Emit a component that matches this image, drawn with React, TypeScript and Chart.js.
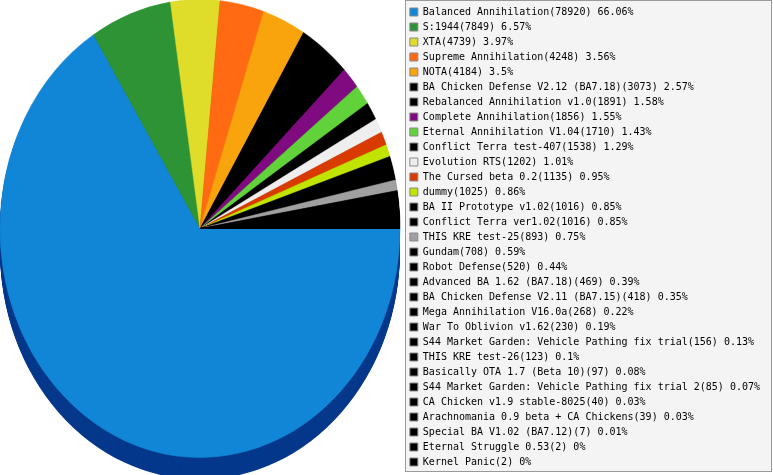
import React, { useEffect, useRef } from 'react';
import { Chart, registerables } from 'chart.js';

Chart.register(...registerables);

const NAMES: string[] = [
  'Balanced Annihilation',
  'S:1944',
  'XTA',
  'Supreme Annihilation',
  'NOTA',
  'BA Chicken Defense V2.12 (BA7.18)',
  'Rebalanced Annihilation v1.0',
  'Complete Annihilation',
  'Eternal Annihilation V1.04',
  'Conflict Terra test-407',
  'Evolution RTS',
  'The Cursed beta 0.2',
  'dummy',
  'BA II Prototype v1.02',
  'Conflict Terra ver1.02',
  'THIS KRE test-25',
  'Gundam',
  'Robot Defense',
  'Advanced BA 1.62 (BA7.18)',
  'BA Chicken Defense V2.11 (BA7.15)',
  'Mega Annihilation V16.0a',
  'War To Oblivion v1.62',
  'S44 Market Garden: Vehicle Pathing fix trial',
  'THIS KRE test-26',
  'Basically OTA 1.7 (Beta 10)',
  'S44 Market Garden: Vehicle Pathing fix trial 2',
  'CA Chicken v1.9 stable-8025',
  'Arachnomania 0.9 beta + CA Chickens',
  'Special BA V1.02 (BA7.12)',
  'Eternal Struggle 0.53',
  'Kernel Panic',
];

const VALUES: number[] = [
  78920, 7849, 4739, 4248, 4184, 3073, 1891, 1856, 1710, 1538, 1202, 1135, 1025,
  1016, 1016, 893, 708, 520, 469, 418, 268, 230, 156, 123, 97, 85, 40, 39, 7, 2, 2,
];

const COLORS: string[] = [
  '#1185d6', '#2e9334', '#e0dc2a', '#ff6a12', '#f9a30d', '#000000', '#000000',
  '#800a80', '#62d23a', '#000000', '#eeeeee', '#d93a00', '#c0e300', '#000000',
  '#000000', '#a0a0a0', '#000000', '#000000', '#000000', '#000000', '#000000',
  '#000000', '#000000', '#000000', '#000000', '#000000', '#000000', '#000000',
  '#000000', '#000000', '#000000',
];

// style / layout of the tilted (3D) pie
const PIE_CX = 200;
const PIE_CY = 228.5;
const PIE_RX = 200;
const PIE_RY = 229;
const DEPTH = 22;

function darken(hex: string): string {
  const n = parseInt(hex.slice(1), 16);
  const r = Math.round(((n >> 16) & 255) * 0.3);
  const g = Math.round(((n >> 8) & 255) * 0.42);
  const b = Math.round((n & 255) * 0.65);
  return `rgb(${r},${g},${b})`;
}

const TOTAL = VALUES.reduce((a, b) => a + b, 0);
const LABELS = NAMES.map(
  (n, i) => `${n}(${VALUES[i]}) ${Math.round((VALUES[i] / TOTAL) * 10000) / 100}%`
);

const pie3d = {
  id: 'pie3d',
  beforeDatasetsDraw(chart: any) {
    const ctx: CanvasRenderingContext2D = chart.ctx;
    const arcs: any[] = chart.getDatasetMeta(0).data;
    if (!arcs.length) return;
    const a0 = arcs[0];
    const cx = a0.x;
    const cy = a0.y;
    const r = a0.outerRadius;
    const sx = PIE_RX / r;
    const sy = PIE_RY / r;
    const south = Math.PI / 2;
    const dist = (a: any) => {
      const m = (a.startAngle + a.endAngle) / 2 - south;
      return Math.abs(Math.atan2(Math.sin(m), Math.cos(m)));
    };
    const order = arcs.map((_, i) => i).sort((i, j) => dist(arcs[j]) - dist(arcs[i]));
    for (const i of order) {
      const a = arcs[i];
      ctx.fillStyle = darken(COLORS[i]);
      for (let s = DEPTH; s >= 1; s--) {
        ctx.save();
        ctx.translate(PIE_CX, PIE_CY + s);
        ctx.scale(sx, sy);
        ctx.beginPath();
        ctx.moveTo(0, 0);
        ctx.arc(0, 0, r, a.startAngle, a.endAngle);
        ctx.closePath();
        ctx.fill();
        ctx.restore();
      }
    }
    ctx.save();
    ctx.translate(PIE_CX, PIE_CY);
    ctx.scale(sx, sy);
    ctx.translate(-cx, -cy);
  },
  afterDatasetsDraw(chart: any) {
    chart.ctx.restore();
  },
};

const legendBox = {
  id: 'legendBox',
  beforeDraw(chart: any) {
    const l = chart.legend;
    if (!l) return;
    const ctx: CanvasRenderingContext2D = chart.ctx;
    const x0 = Math.round(l.left) + 0.5;
    const y0 = Math.round(l.top) - 1.5;
    const x1 = Math.round(l.right) + 1.5;
    const y1 = Math.round(l.bottom) - 1.5;
    ctx.save();
    ctx.fillStyle = '#f4f4f4';
    ctx.fillRect(x0, y0, x1 - x0, y1 - y0);
    ctx.strokeStyle = '#9a9a9a';
    ctx.lineWidth = 1;
    ctx.strokeRect(x0, y0, x1 - x0, y1 - y0);
    ctx.restore();
  },
};

export default function App() {
  const ref = useRef<HTMLCanvasElement | null>(null);
  useEffect(() => {
    if (!ref.current) return;
    const chart = new Chart(ref.current, {
      type: 'pie',
      data: {
        labels: LABELS,
        datasets: [
          {
            data: VALUES,
            backgroundColor: COLORS,
            borderColor: COLORS,
            borderWidth: 0.5,
            clip: false,
          } as any,
        ],
      },
      options: {
        responsive: false,
        maintainAspectRatio: false,
        animation: false,
        events: [],
        rotation: 90,
        layout: { padding: { left: -5, right: 3, top: 2, bottom: 2 } },
        plugins: {
          tooltip: { enabled: false },
          legend: {
            position: 'right',
            align: 'start',
            labels: {
              boxWidth: 8,
              boxHeight: 8,
              padding: 5,
              color: '#000',
              font: { family: "'DejaVu Sans Mono', monospace", size: 10 },
              generateLabels: (c: any) =>
                c.data.labels.map((t: string, i: number) => ({
                  text: t,
                  fillStyle: COLORS[i],
                  strokeStyle: '#8a8a8a',
                  lineWidth: 1,
                  fontColor: '#000',
                  hidden: false,
                  index: i,
                })),
            },
          },
        },
      } as any,
      plugins: [pie3d, legendBox],
    });
    return () => chart.destroy();
  }, []);
  return (
    <div style={{ position: 'absolute', left: 0, top: 0, width: 773, height: 475, background: '#fff' }}>
      <canvas ref={ref} width={773} height={475} style={{ display: 'block', width: 773, height: 475 }} />
    </div>
  );
}
